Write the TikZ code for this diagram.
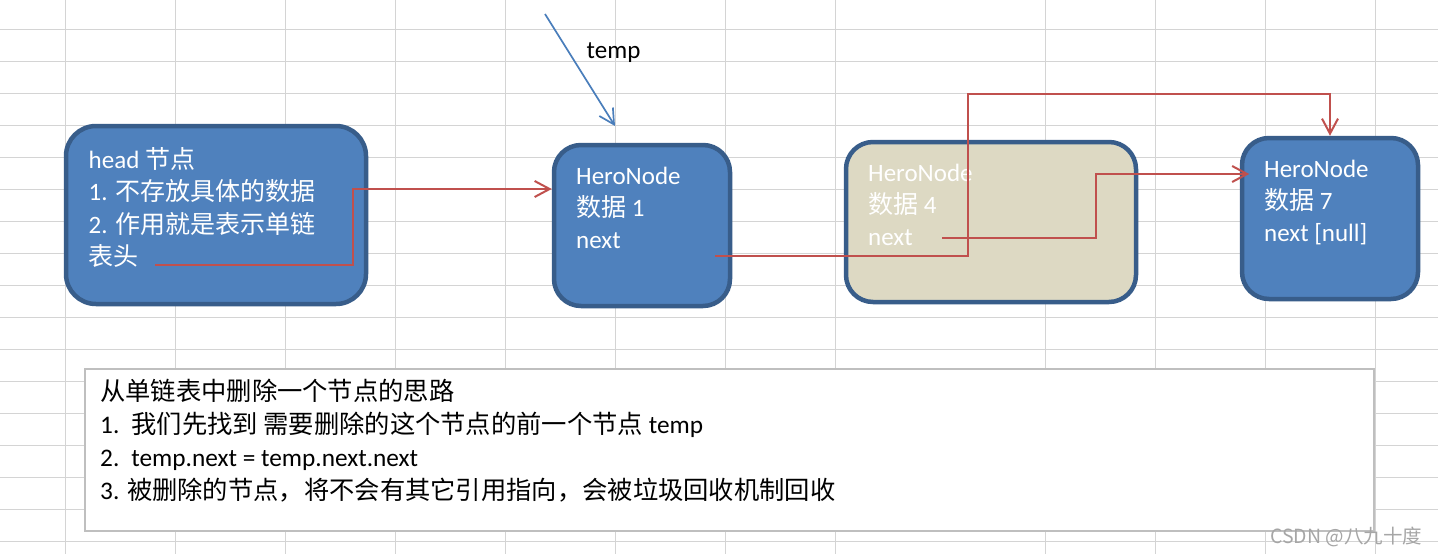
\documentclass[tikz,border=0pt]{standalone}
\usepackage{fontspec}
\setmainfont{Carlito}
\newfontfamily\cjkf{Noto Sans CJK SC}
\newcommand\zh[1]{{\cjkf #1}}
\usetikzlibrary{arrows.meta,calc}
\definecolor{nodeblue}{HTML}{4F81BD}
\definecolor{nodeedge}{HTML}{385D8A}
\definecolor{beigefill}{HTML}{DDD9C3}
\definecolor{linkred}{HTML}{C0504D}
\definecolor{gridgray}{HTML}{D4D4D4}
\definecolor{boxgray}{HTML}{BFBFBF}
\definecolor{tempblue}{HTML}{4A7EBB}
\definecolor{wmgray}{HTML}{A6A6A6}
\begin{document}
\begin{tikzpicture}[x=1pt,y=-1pt,
  gridline/.style={draw=gridgray,line width=1pt},
  herobox/.style={draw=nodeedge,line width=4.5pt,fill=nodeblue,rounded corners=27pt,inner sep=0pt},
  beigebox/.style={herobox,fill=beigefill},
  boxtext/.style={anchor=north west,inner sep=0pt,align=left,text=white,font=\fontsize{25}{32.5}\selectfont},
  notebox/.style={draw=boxgray,line width=2.2pt,fill=white,inner sep=0pt},
  notetext/.style={anchor=north west,inner sep=0pt,align=left,text=black,font=\fontsize{25.3}{33.3}\selectfont},
  link/.style={draw=linkred,line width=2pt,-{Straight Barb[length=15pt,width=16pt]}},
  tempptr/.style={draw=tempblue,line width=1.7pt,-{Straight Barb[length=15pt,width=16pt]}},
]
\useasboundingbox (0,0) rectangle (1438,554);
\fill[white] (0,0) rectangle (1438,554);
% spreadsheet grid
\foreach \gx in {65,175,285,395,505,615,725,835,1045,1155,1265,1375}
  \draw[gridline] (\gx,0) -- (\gx,554);
\foreach \k in {0,...,16}
  \draw[gridline] (0,29.3+32*\k) -- (1438,29.3+32*\k);

% boxes
\node[herobox,minimum width=300pt,minimum height=178pt,rounded corners=30pt] (head) at (216,215) {};
\node[herobox,minimum width=176pt,minimum height=161pt] (n1) at (642,225.5) {};
\node[beigebox,minimum width=290pt,minimum height=160pt] (n4) at (991,222) {};
\node[herobox,minimum width=176pt,minimum height=161pt] (n7) at (1330,218.5) {};

% texts in boxes
\node[boxtext] (headtxt) at (88.5,145.25) {\strut head \zh{节点}\\1. \zh{不存放具体的数据}\\2. \zh{作用就是表示单链}\\\zh{表头}};
\node[boxtext,font=\fontsize{25}{32.3}\selectfont] (n1txt) at (576,161.25) {\strut HeroNode\\\zh{数据} 1\\next};
\node[boxtext,font=\fontsize{25}{32}\selectfont] (n4txt) at (868,158.4) {\strut HeroNode\\\zh{数据} 4\\next};
\node[boxtext,font=\fontsize{25}{32}\selectfont] (n7txt) at (1264,154.4) {\strut HeroNode\\\zh{数据} 7\\next [null]};

% connector start points
\coordinate (hnext) at (155,265);
\coordinate (n1next) at (715,256);
\coordinate (n4next) at (942,238);

% connectors
\draw[link] (hnext) -- (353,265) |- (n1.west |- 0,189);
\draw[link] (n1next) -- (968,256) -- (968,94) -| (n7.north);
\draw[link] (n4next) -- (1096,238) |- ($(n7.west |- 0,174)+(9.5,0)$);

% temp pointer
\coordinate (tstart) at (545,14);
\coordinate (tend) at (615,126);
\draw[tempptr] (tstart) -- (tend);
\node[anchor=base west,inner sep=0pt,font=\fontsize{25}{30}\selectfont] (templbl) at (586.5,58) {temp};

% note box
\node[notebox,minimum width=1289pt,minimum height=162pt] (note) at (729.5,450) {};
\node[notetext] (notetxt) at (100,376.5) {\strut\zh{从单链表中删除一个节点的思路}\\
1.\hspace{12pt}\zh{我们先找到 需要删除的这个节点的前一个节点} temp\\
2.\hspace{12pt}temp.next = temp.next.next\\
3. \zh{被删除的节点，将不会有其它引用指向，会被垃圾回收机制回收}};

% watermark
\node[anchor=base west,inner sep=0pt,text=wmgray,font=\cjkf\fontsize{19.5}{19.5}\selectfont] (wm) at (1270,543) {CSDN @八九十度};
\end{tikzpicture}
\end{document}
